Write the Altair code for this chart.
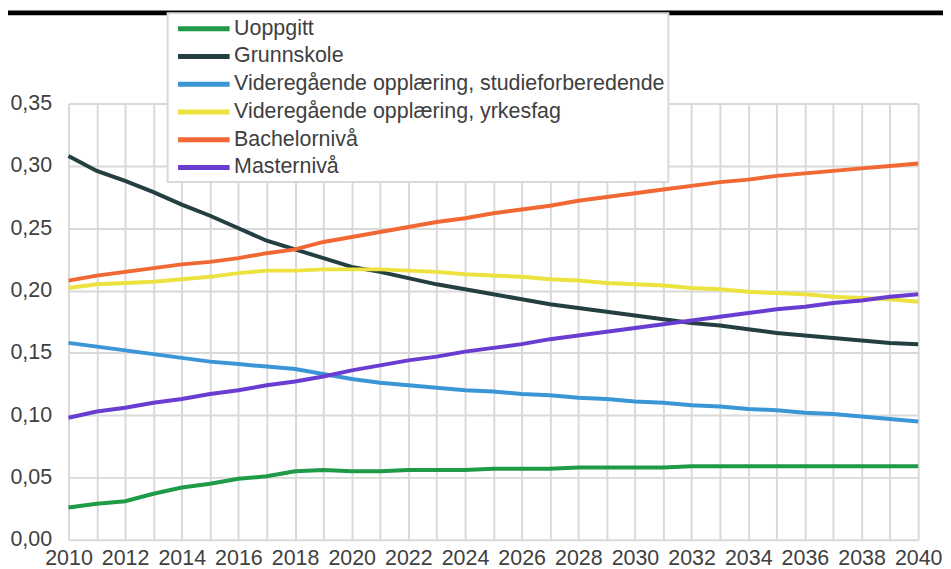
import altair as alt
import pandas as pd

years = list(range(2010, 2041))
series_names = [
    "Uoppgitt",
    "Grunnskole",
    "Videregående opplæring, studieforberedende",
    "Videregående opplæring, yrkesfag",
    "Bachelornivå",
    "Masternivå",
]
series_colors = ["#1f9b48", "#233f42", "#3a96d6", "#ede23f", "#f26834", "#6a3dd2"]

uoppgitt = [0.026, 0.029, 0.031, 0.037, 0.042, 0.045, 0.049, 0.051, 0.055, 0.056, 0.055,
            0.055, 0.056, 0.056, 0.056, 0.057, 0.057, 0.057, 0.058, 0.058, 0.058,
            0.058, 0.059, 0.059, 0.059, 0.059, 0.059, 0.059, 0.059, 0.059, 0.059]
grunnskole = [0.308, 0.296, 0.288, 0.279, 0.269, 0.260, 0.250, 0.240, 0.233, 0.226, 0.219,
              0.215, 0.210, 0.205, 0.201, 0.197, 0.193, 0.189, 0.186, 0.183, 0.180,
              0.177, 0.174, 0.172, 0.169, 0.166, 0.164, 0.162, 0.160, 0.158, 0.157]
studieforb = [0.158, 0.155, 0.152, 0.149, 0.146, 0.143, 0.141, 0.139, 0.137, 0.133, 0.129,
              0.126, 0.124, 0.122, 0.120, 0.119, 0.117, 0.116, 0.114, 0.113, 0.111,
              0.110, 0.108, 0.107, 0.105, 0.104, 0.102, 0.101, 0.099, 0.097, 0.095]
yrkesfag = [0.202, 0.205, 0.206, 0.207, 0.209, 0.211, 0.214, 0.216, 0.216, 0.217, 0.217,
            0.217, 0.216, 0.215, 0.213, 0.212, 0.211, 0.209, 0.208, 0.206, 0.205,
            0.204, 0.202, 0.201, 0.199, 0.198, 0.197, 0.195, 0.194, 0.193, 0.191]
bachelor = [0.208, 0.212, 0.215, 0.218, 0.221, 0.223, 0.226, 0.230, 0.233, 0.239, 0.243,
            0.247, 0.251, 0.255, 0.258, 0.262, 0.265, 0.268, 0.272, 0.275, 0.278,
            0.281, 0.284, 0.287, 0.289, 0.292, 0.294, 0.296, 0.298, 0.300, 0.302]
master = [0.098, 0.103, 0.106, 0.110, 0.113, 0.117, 0.120, 0.124, 0.127, 0.131, 0.136,
          0.140, 0.144, 0.147, 0.151, 0.154, 0.157, 0.161, 0.164, 0.167, 0.170,
          0.173, 0.176, 0.179, 0.182, 0.185, 0.187, 0.190, 0.192, 0.195, 0.197]

y_ticks = [0.0, 0.05, 0.10, 0.15, 0.20, 0.25, 0.30, 0.35]

all_series = [uoppgitt, grunnskole, studieforb, yrkesfag, bachelor, master]
rows = []
for i, (name, vals) in enumerate(zip(series_names, all_series)):
    for yr, v in zip(years, vals):
        rows.append({"year": yr, "value": v, "series": name, "idx": i})
df = pd.DataFrame(rows)

FONT = "Liberation Sans"
FS = 21.6
TXT = "#404040"
GRID = "#d9d9d9"

lines = alt.Chart(df).mark_line(strokeWidth=4).encode(
    x=alt.X(
        "year:Q",
        scale=alt.Scale(domain=[2010, 2040], nice=False, zero=False),
        axis=alt.Axis(
            values=years, format="d",
            labelExpr="datum.value % 2 == 0 ? datum.label : ''",
            grid=True, gridColor=GRID, gridWidth=2, domain=False, ticks=False,
            labelPadding=8, labelFont=FONT, labelFontSize=FS, labelColor=TXT,
            labelFlush=False, labelOverlap=False, title=None,
        ),
    ),
    y=alt.Y(
        "value:Q",
        scale=alt.Scale(domain=[0, 0.35], nice=False),
        axis=alt.Axis(
            values=y_ticks,
            labelExpr="replace(format(datum.value, '.2f'), '.', ',')",
            grid=True, gridColor=GRID, gridWidth=2, domain=False, ticks=False,
            labelPadding=17, labelFont=FONT, labelFontSize=FS, labelColor=TXT,
            labelOverlap=False, title=None,
        ),
    ),
    color=alt.Color(
        "series:N",
        scale=alt.Scale(domain=series_names, range=series_colors),
        title=None,
        legend=alt.Legend(
            orient="none", legendX=100, legendY=-91,
            fillColor="white", strokeColor=GRID, padding=3, rowPadding=4,
            labelFont=FONT, labelFontSize=FS, labelColor=TXT, labelLimit=1000,
            symbolType="M-2.6,0H2.6", symbolSize=400, symbolStrokeWidth=5,
            symbolOffset=21, labelOffset=18,
        ),
    ),
    order="idx:Q",
)

topbar = alt.Chart(pd.DataFrame({"k": [0]})).mark_rule(color="black", strokeWidth=5).encode(
    x=alt.value(-62), x2=alt.value(890), y=alt.value(-91.5)
)

chart = alt.layer(lines, topbar).properties(
    width=857, height=440,
    padding={"left": 61, "top": 94, "right": 25, "bottom": 27},
    autosize=alt.AutoSizeParams(type="none"),
).configure_view(stroke=None).configure_legend(strokeWidth=2)

chart.save("out.html", embed_options={"renderer": "svg", "actions": False})
